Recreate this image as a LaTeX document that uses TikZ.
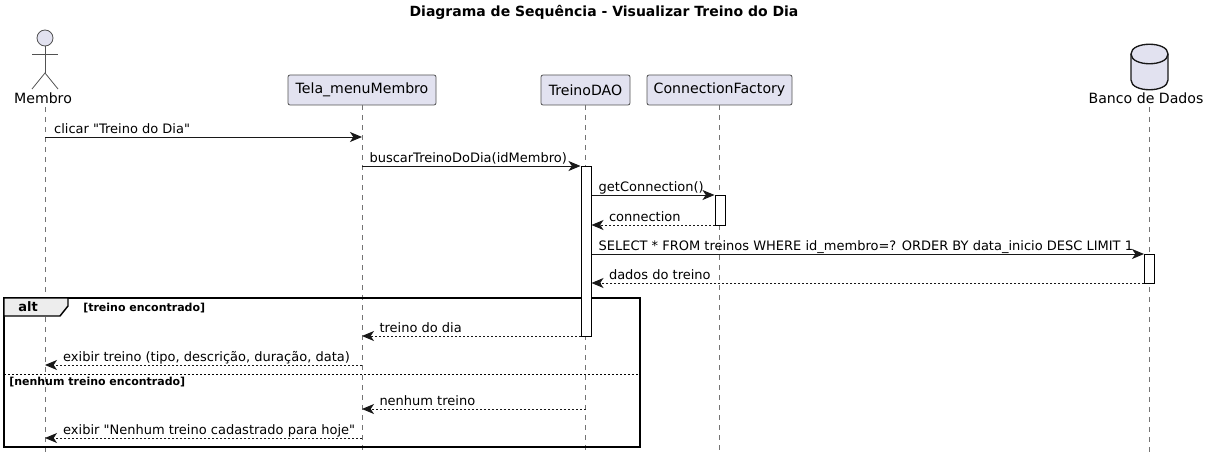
\documentclass[tikz,border=0pt]{standalone}
\usepackage{fontspec}
\setmainfont{DejaVu Sans}
\newfontfamily\plainquotes{DejaVu Sans}
\usetikzlibrary{arrows.meta,positioning}
\definecolor{partfill}{HTML}{E2E2F0}
\definecolor{partline}{HTML}{181818}
\tikzset{
  participant/.style={
    rectangle, rounded corners=1.5pt, draw=partline!75, fill=partfill, line width=0.6pt,
    minimum height=22.5pt, inner sep=0pt, text=black, font=\fontsize{10.6pt}{12pt}\selectfont
  },
  actorlabel/.style={inner sep=0pt, font=\fontsize{10.6pt}{12pt}\selectfont},
  actorline/.style={draw=partline!75, line width=0.6pt},
  database/.style={draw=partline, fill=partfill, line width=1pt},
  lifeline/.style={draw=partline!60, line width=0.4pt, dash pattern=on 3.75pt off 3.75pt},
  activation/.style={rectangle, draw=black, fill=white, line width=0.75pt, minimum width=7.5pt, inner sep=0pt},
  call/.style={-{Stealth[length=9pt,width=7.5pt,inset=2.5pt]}, line width=0.75pt, draw=partline},
  reply/.style={call, dash pattern=on 1.5pt off 1.5pt},
  msgtext/.style={inner sep=0pt, anchor=base west, yshift=2.7pt, font=\plainquotes\fontsize{9.75pt}{12pt}\selectfont},
  altframe/.style={draw=black, line width=1.1pt},
  guard/.style={inner sep=0pt, anchor=base west, font=\bfseries\fontsize{8.25pt}{10pt}\selectfont},
}
\begin{document}
\begin{tikzpicture}[x=0.75pt, y=-0.75pt]
  \useasboundingbox (0,0) rectangle (1207,453);

  % Title
  \node[inner sep=0pt, font=\bfseries\fontsize{10.5pt}{12pt}\selectfont] (title) at (604,12)
    {Diagrama de Sequência - Visualizar Treino do Dia};

  % Participants
  \node[actorlabel] (membro) at (43,98.5) {Membro};
  \node[participant, minimum width=111pt] (tela) at (362,90) {Tela\_menuMembro};
  \node[participant, minimum width=66.75pt] (dao) at (585.5,90) {TreinoDAO};
  \node[participant, minimum width=108.75pt] (factory) at (719.5,90) {ConnectionFactory};
  \node[actorlabel] (bancolabel) at (1146,98.5) {Banco de Dados};

  % Database drum
  \draw[database] (1131,54) .. controls (1131,41) and (1168,41) .. (1168,54) -- (1168,80)
    .. controls (1168,93) and (1131,93) .. (1131,80) -- cycle;
  \draw[database, fill=none] (1131,54) .. controls (1131,67) and (1168,67) .. (1168,54);

  % Actor figure
  \node[circle, draw=partline!75, fill=partfill, line width=0.6pt, minimum size=12pt, inner sep=0pt] (head) at (45,38) {};
  \coordinate (hip) at (45,73);
  \coordinate (armleft) at (32,54);
  \coordinate (armright) at (58,54);
  \coordinate (footleft) at (32,89);
  \coordinate (footright) at (58,89);
  \draw[actorline] (head) -- (hip);
  \draw[actorline] (armleft) -- (armright);
  \draw[actorline] (footleft) -- (hip) -- (footright);

  % Lifelines
  \coordinate (bottom) at (0,453);
  \coordinate (start) at (0,107);
  \coordinate (xmembro) at (45,0);
  \coordinate (xbanco) at (1149,0);
  \draw[lifeline] (xmembro |- start) -- (xmembro |- bottom);
  \draw[lifeline] (tela) ++(0,15) -- (tela |- bottom);
  \draw[lifeline] (dao) ++(0,15) -- (dao |- bottom);
  \draw[lifeline] (factory) ++(0,15) -- (factory |- bottom);
  \draw[lifeline] (xbanco |- start) -- (xbanco |- bottom);

  % Alt frame
  \draw[altframe] (4,298) rectangle (640,447);
  \draw[altframe, fill=black!7] (4,298) -- (68,298) -- (68,306) -- (60,316) -- (4,316) -- cycle;
  \node[inner sep=0pt, font=\bfseries\fontsize{9.75pt}{12pt}\selectfont] (alttag) at (28,306.5) {alt};
  \node[guard] (guardone) at (83,311) {[treino encontrado]};
  \draw[draw=black, line width=0.6pt, dash pattern=on 1.5pt off 1.5pt] (4,374) -- (640,374);
  \node[guard] (guardtwo) at (9,385) {[nenhum treino encontrado]};

  % Activation bars
  \node[activation, minimum height=127.5pt] (daobar) at (586,251) {};
  \node[activation, minimum height=22.5pt] (factorybar) at (720,210) {};
  \node[activation, minimum height=21.75pt] (bancobar) at (1149.5,268.5) {};

  % Messages
  \coordinate (mclicar) at (0,137);
  \coordinate (mbuscar) at (0,166);
  \coordinate (mget) at (0,195);
  \coordinate (mconn) at (0,225);
  \coordinate (mselect) at (0,254);
  \coordinate (mdados) at (0,283);
  \coordinate (mtreino) at (0,336);
  \coordinate (mexibir) at (0,365);
  \coordinate (mnenhum) at (0,409);
  \coordinate (mhoje) at (0,438);

  \draw[call] (xmembro |- mclicar) -- (tela |- mclicar)
    node[msgtext, pos=0, xshift=6.5pt] (lclicar) {clicar "Treino do Dia"};
  \draw[call] (tela |- mbuscar) -- (daobar.west |- mbuscar)
    node[msgtext, pos=0, xshift=5.25pt] (lbuscar) {buscarTreinoDoDia(idMembro)};
  \draw[call] (daobar.east |- mget) -- (factorybar.west |- mget)
    node[msgtext, pos=0, xshift=5pt] (lget) {getConnection()};
  \draw[reply] (factorybar.west |- mconn) -- (daobar.east |- mconn)
    node[msgtext, pos=1, xshift=12.75pt] (lconn) {connection};
  \draw[call] (daobar.east |- mselect) -- (bancobar.west |- mselect)
    node[msgtext, pos=0, xshift=5pt] (lselect) {SELECT * FROM treinos WHERE id\_membro=? ORDER BY data\_inicio DESC LIMIT 1};
  \draw[reply] (bancobar.west |- mdados) -- (daobar.east |- mdados)
    node[msgtext, pos=1, xshift=12.75pt] (ldados) {dados do treino};
  \draw[reply] (daobar.west |- mtreino) -- (tela |- mtreino)
    node[msgtext, pos=1, xshift=12.75pt] (ltreino) {treino do dia};
  \draw[reply] (tela |- mexibir) -- (xmembro |- mexibir)
    node[msgtext, pos=1, xshift=13.25pt] (lexibir) {exibir treino (tipo, descrição, duração, data)};
  \draw[reply] (dao |- mnenhum) -- (tela |- mnenhum)
    node[msgtext, pos=1, xshift=12.75pt] (lnenhum) {nenhum treino};
  \draw[reply] (tela |- mhoje) -- (xmembro |- mhoje)
    node[msgtext, pos=1, xshift=13.25pt] (lhoje) {exibir "Nenhum treino cadastrado para hoje"};
\end{tikzpicture}
\end{document}
